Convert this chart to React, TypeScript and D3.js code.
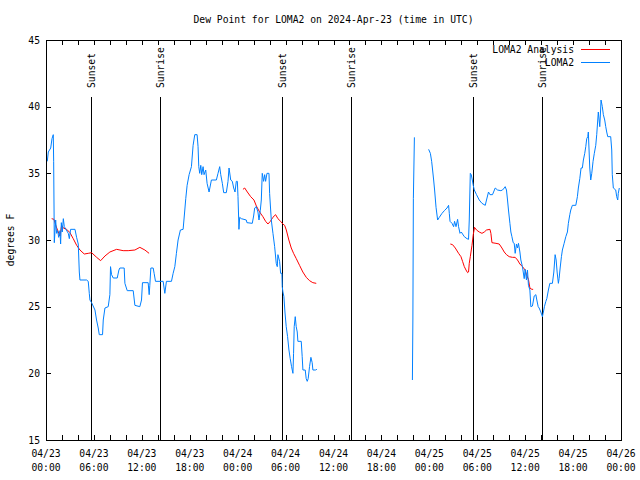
import React from "react";
import * as d3 from "d3";

// hours since 2024-04-23 00:00 UTC, dew point in °F
const loma2Seg1: [number, number][] = [
  [0.16, 35.9], [0.29, 36.6], [0.59, 36.9], [0.75, 37.6], [0.91, 37.9], [0.96, 35.9], [1.04, 29.8],
  [1.21, 31.5], [1.33, 30.5], [1.46, 30.7], [1.59, 30.2], [1.75, 30.7], [1.83, 29.7], [1.92, 31.3],
  [2.04, 30.6], [2.17, 31.6], [2.29, 31.0], [2.5, 30.8], [2.79, 30.5], [2.92, 30.1], [3.08, 30.8],
  [3.63, 30.8], [3.83, 30.2], [4.04, 29.7], [4.17, 27.6], [4.25, 27.0], [5.08, 27.0], [5.29, 26.9],
  [5.42, 26.0], [5.5, 25.5], [5.71, 25.3], [6.13, 24.75], [6.33, 24.0], [6.54, 23.4], [6.67, 22.9],
  [7.08, 22.9], [7.17, 24.0], [7.38, 24.9], [7.79, 25.0], [8.0, 25.9], [8.08, 28.0], [8.21, 27.4],
  [8.42, 27.15], [8.92, 27.15], [9.13, 27.75], [9.25, 27.9], [9.79, 27.9], [9.88, 26.75], [10.17, 26.2],
  [10.92, 26.2], [11.13, 25.1], [11.75, 25.0], [11.96, 25.5], [12.08, 26.8], [12.79, 26.8], [12.92, 25.9],
  [13.0, 26.6], [13.13, 27.9], [13.42, 27.9], [13.54, 27.5], [13.71, 26.9], [14.67, 26.9], [14.88, 26.0],
  [15.08, 26.9], [15.71, 26.9], [15.92, 27.5], [16.13, 28.0], [16.33, 29.0], [16.54, 30.0], [16.83, 30.75],
  [17.17, 30.8], [17.38, 32.25], [17.5, 33.1], [17.67, 34.1], [17.92, 34.9], [18.21, 35.5], [18.42, 37.1],
  [18.63, 37.9], [18.92, 37.9], [19.04, 37.0], [19.13, 35.5], [19.25, 35.0], [19.38, 35.6], [19.5, 34.9],
  [19.67, 35.5], [19.79, 34.9], [20.0, 35.25], [20.17, 34.25], [20.42, 33.6], [20.71, 34.5], [21.33, 34.5],
  [21.54, 35.0], [21.75, 35.5], [21.88, 34.9], [22.08, 34.25], [22.25, 33.55], [22.58, 33.55], [22.79, 34.4],
  [22.92, 35.4], [23.13, 34.5], [23.33, 34.4], [23.5, 33.9], [23.67, 33.6], [23.83, 34.4], [23.96, 34.4],
  [24.04, 33.25], [24.13, 31.5], [24.16, 30.8], [24.25, 31.7], [24.46, 31.6], [25.08, 31.5], [25.16, 31.3],
  [25.83, 31.25], [26.0, 31.8], [26.13, 32.4], [26.33, 32.5], [26.54, 32.1], [26.67, 31.5], [26.83, 32.2],
  [26.96, 33.0], [27.08, 35.0], [27.25, 34.4], [27.38, 34.9], [27.5, 34.4], [27.67, 35.0], [27.92, 35.0],
  [28.0, 33.5], [28.21, 31.5], [28.42, 30.5], [28.63, 29.5], [28.83, 28.25], [28.96, 28.0], [29.04, 28.9],
  [29.25, 28.4], [29.38, 27.5], [29.54, 27.5], [29.58, 26.5], [29.67, 26.1], [29.79, 25.75], [29.92, 24.6],
  [30.08, 23.5], [30.25, 22.75], [30.42, 21.75], [30.58, 21.1], [30.75, 20.5], [30.92, 20.0], [31.0, 21.5],
  [31.08, 23.5], [31.21, 24.25], [31.33, 23.5], [31.46, 23.1], [31.54, 22.4], [31.96, 22.4], [32.08, 21.25],
  [32.17, 20.25], [32.46, 20.25], [32.58, 19.6], [32.71, 19.4], [32.83, 19.6], [33.0, 20.5], [33.17, 21.2],
  [33.33, 20.8], [33.42, 20.25], [33.75, 20.25], [33.92, 20.3],
];
const loma2Seg2: [number, number][] = [
  [45.88, 19.5], [45.94, 24.0], [46.0, 33.1], [46.13, 37.7],
];
const loma2Seg3: [number, number][] = [
  [47.91, 36.8], [48.13, 36.5], [48.29, 35.9], [48.41, 35.25], [48.54, 34.5], [48.66, 33.75], [48.84, 32.45],
  [49.04, 31.5], [49.25, 31.7], [49.59, 32.0], [49.88, 32.2], [50.21, 32.4], [50.41, 32.6], [50.5, 32.0],
  [50.59, 31.4], [50.84, 31.25], [51.04, 31.0], [51.16, 31.4], [51.34, 31.0], [51.54, 31.55], [51.66, 31.0],
  [51.84, 30.5], [52.0, 30.6], [52.16, 30.45], [52.38, 30.25], [52.71, 30.1], [52.91, 30.05], [53.0, 31.5],
  [53.13, 35.0], [53.25, 34.9], [53.38, 34.5], [53.5, 34.1], [53.63, 33.75], [53.91, 33.4], [54.25, 33.0],
  [54.59, 32.75], [55.0, 32.6], [55.16, 33.0], [55.41, 33.6], [55.59, 33.4], [55.91, 33.4], [56.25, 33.9],
  [56.54, 33.75], [56.96, 33.7], [57.16, 33.75], [57.38, 33.9], [57.5, 34.0], [57.66, 33.75], [57.79, 33.0],
  [57.91, 32.25], [58.09, 31.25], [58.21, 30.6], [58.34, 30.25], [58.5, 29.8], [58.63, 29.75], [58.75, 29.0],
  [58.91, 29.7], [59.04, 29.4], [59.16, 29.75], [59.34, 29.1], [59.46, 28.5], [59.66, 28.0], [59.88, 27.1],
  [60.0, 27.8], [60.16, 27.0], [60.29, 27.75], [60.41, 26.6], [60.59, 26.25], [60.71, 25.0], [60.91, 25.05],
  [61.13, 25.8], [61.34, 25.9], [61.46, 25.5], [61.63, 25.0], [61.75, 24.9], [61.96, 24.6], [62.16, 24.25],
  [62.25, 24.5], [62.41, 25.0], [62.59, 25.4], [62.71, 25.6], [62.91, 26.25], [63.09, 26.75], [63.41, 26.75],
  [63.59, 27.6], [63.75, 28.9], [63.88, 28.5], [64.0, 27.6], [64.16, 26.75], [64.25, 27.1], [64.38, 27.9],
  [64.54, 28.75], [64.66, 29.25], [64.88, 29.75], [65.09, 30.25], [65.29, 30.6], [65.41, 31.25], [65.59, 31.9],
  [65.71, 32.25], [65.91, 32.6], [66.34, 32.6], [66.54, 33.25], [66.66, 33.9], [66.84, 34.6], [67.0, 35.4],
  [67.16, 35.4], [67.29, 36.0], [67.46, 36.5], [67.59, 37.0], [67.71, 37.6], [67.84, 37.75], [67.91, 38.1],
  [68.0, 36.75], [68.09, 35.4], [68.21, 34.5], [68.34, 35.0], [68.5, 35.9], [68.66, 36.5], [68.84, 37.1],
  [68.96, 37.9], [69.09, 39.0], [69.16, 39.6], [69.34, 38.5], [69.41, 39.3], [69.5, 40.5], [69.66, 40.0],
  [69.79, 39.4], [69.96, 39.0], [70.09, 38.5], [70.21, 38.1], [70.34, 37.75], [70.71, 37.75], [70.84, 36.75],
  [70.91, 34.9], [71.04, 33.9], [71.34, 33.75], [71.46, 33.25], [71.59, 33.0], [71.66, 33.5], [71.79, 33.9],
];

const analysisSeg1: [number, number][] = [
  [0.71, 31.6], [1.0, 31.55], [1.25, 31.05], [1.54, 30.6], [1.75, 30.3], [1.96, 31.1], [2.16, 30.9],
  [2.59, 30.8], [3.0, 30.55], [3.41, 30.1], [3.84, 29.6], [4.25, 29.25], [4.79, 28.95], [5.29, 29.0],
  [5.71, 29.05], [6.34, 28.7], [6.84, 28.45], [7.38, 28.8], [8.0, 29.1], [8.84, 29.3], [9.66, 29.2],
  [10.29, 29.2], [11.13, 29.25], [11.75, 29.45], [12.38, 29.25], [12.91, 29.0],
];
const analysisSeg2: [number, number][] = [
  [24.66, 33.8], [24.88, 33.9], [25.21, 33.6], [25.63, 33.25], [26.04, 33.0], [26.34, 32.55], [26.75, 32.1],
  [27.16, 31.75], [27.5, 31.4], [27.79, 31.2], [28.09, 31.4], [28.41, 31.7], [28.75, 31.9], [29.04, 31.6],
  [29.38, 31.4], [29.66, 31.2], [29.88, 31.1], [30.09, 30.75], [30.41, 30.0], [30.71, 29.4], [31.0, 29.0],
  [31.34, 28.6], [31.75, 28.1], [32.16, 27.6], [32.59, 27.2], [33.0, 26.95], [33.41, 26.8], [33.84, 26.75],
];
const analysisSeg3: [number, number][] = [
  [50.63, 29.7], [50.91, 29.65], [51.25, 29.4], [51.66, 29.0], [51.96, 28.75], [52.16, 28.4], [52.38, 28.0],
  [52.59, 27.75], [52.79, 27.55], [52.91, 27.6], [53.0, 28.25], [53.13, 28.75], [53.34, 29.6], [53.5, 30.4],
  [53.66, 30.95], [53.91, 30.75], [54.25, 30.6], [54.59, 30.5], [54.88, 30.6], [55.16, 30.75], [55.59, 30.8],
  [55.71, 30.5], [55.84, 29.8], [56.34, 29.75], [56.75, 29.7], [57.09, 29.4], [57.38, 29.1], [57.66, 28.9],
  [58.0, 28.75], [58.41, 28.7], [58.75, 28.7], [59.04, 28.5], [59.34, 28.2], [59.66, 28.0], [60.0, 27.75],
  [60.16, 27.4], [60.41, 27.05], [60.59, 26.4], [60.84, 26.3], [61.0, 26.3],
];

const sunEventHours = [5.63, 14.25, 29.5, 38.25, 53.5, 62.13];
const sunEventLabels = ["Sunset", "Sunrise", "Sunset", "Sunrise", "Sunset", "Sunrise"];

const yTicks = [15, 20, 25, 30, 35, 40, 45];
const titleText = "Dew Point for LOMA2 on 2024-Apr-23 (time in UTC)";
const yLabel = "degrees F";
const seriesNames = ["LOMA2 Analysis", "LOMA2"];
const seriesColors = ["#ff0000", "#0080ff"];

const T0 = Date.UTC(2024, 3, 23);
const toDate = (h: number) => new Date(T0 + h * 3600e3);

export default function App() {
  const W = 640, H = 480;
  const left = 46, right = 621, top = 40, bottom = 440;
  const x = d3.scaleUtc().domain([toDate(0), toDate(72)]).range([left, right]);
  const y = d3.scaleLinear().domain([15, 45]).range([bottom, top]);
  const line = d3
    .line<[number, number]>()
    .x((d) => x(toDate(d[0])))
    .y((d) => y(d[1]));

  const majorTicks = x.ticks(d3.utcHour.every(6)!);
  const minorTicks = x.ticks(d3.utcHour.every(2)!);
  const fmtDate = d3.utcFormat("%m/%d");
  const fmtTime = d3.utcFormat("%H:%M");
  const font = "'DejaVu Sans Mono', 'Liberation Mono', monospace";
  const fs = 9.7;
  const px = (v: number) => Math.round(v) + 0.5;

  const analysis = [analysisSeg1, analysisSeg2, analysisSeg3];
  const obs = [loma2Seg1, loma2Seg2, loma2Seg3];

  return (
    <svg
      width={W}
      height={H}
      style={{ position: "absolute", left: 0, top: 0, background: "#fff" }}
      fontFamily={font}
      fontSize={fs}
    >
      <rect x={0} y={0} width={W} height={H} fill="#fff" />
      <text x={(left + right) / 2} y={23} textAnchor="middle" fill="#000">
        {titleText}
      </text>

      {/* x ticks */}
      {minorTicks.map((t, i) => (
        <g key={"mt" + i} shapeRendering="crispEdges">
          <line x1={px(x(t))} x2={px(x(t))} y1={bottom} y2={bottom - 5} stroke="#000" />
          <line x1={px(x(t))} x2={px(x(t))} y1={top} y2={top + 5} stroke="#000" />
        </g>
      ))}
      {majorTicks.map((t, i) => (
        <g key={"xl" + i}>
          <text x={x(t)} y={457} textAnchor="middle" fill="#000">{fmtDate(t)}</text>
          <text x={x(t)} y={471} textAnchor="middle" fill="#000">{fmtTime(t)}</text>
        </g>
      ))}

      {/* y ticks */}
      {yTicks.map((v) => (
        <g key={"yt" + v}>
          <line x1={left} x2={left + 5} y1={px(y(v))} y2={px(y(v))} stroke="#000" shapeRendering="crispEdges" />
          <line x1={right} x2={right - 5} y1={px(y(v))} y2={px(y(v))} stroke="#000" shapeRendering="crispEdges" />
          <text x={40} y={y(v) + 3.5} textAnchor="end" fill="#000">{v}</text>
        </g>
      ))}
      <text
        transform={`translate(14,${(top + bottom) / 2}) rotate(-90)`}
        textAnchor="middle"
        fill="#000"
      >
        {yLabel}
      </text>

      {/* sun events */}
      {sunEventHours.map((h, i) => {
        const lx = px(x(toDate(h)));
        return (
          <g key={"se" + i}>
            <line x1={lx} x2={lx} y1={97} y2={bottom} stroke="#000" shapeRendering="crispEdges" />
            <text
              transform={`translate(${lx + 3.5},88) rotate(-90)`}
              textAnchor="start"
              fill="#000"
            >
              {sunEventLabels[i]}
            </text>
          </g>
        );
      })}

      {/* series */}
      {analysis.map((seg, i) => (
        <path key={"a" + i} d={line(seg) || ""} fill="none" stroke={seriesColors[0]} strokeWidth={1} />
      ))}
      {obs.map((seg, i) => (
        <path key={"o" + i} d={line(seg) || ""} fill="none" stroke={seriesColors[1]} strokeWidth={1} />
      ))}

      {/* frame */}
      <rect x={left + 0.5} y={top + 0.5} width={right - left} height={bottom - top} fill="none" stroke="#000" shapeRendering="crispEdges" />

      {/* legend */}
      {seriesNames.map((n, i) => (
        <g key={"lg" + i}>
          <text x={574} y={53 + i * 13} textAnchor="end" fill="#000">{n}</text>
          <line x1={581} x2={610} y1={49.5 + i * 13} y2={49.5 + i * 13} stroke={seriesColors[i]} shapeRendering="crispEdges" />
        </g>
      ))}
    </svg>
  );
}
